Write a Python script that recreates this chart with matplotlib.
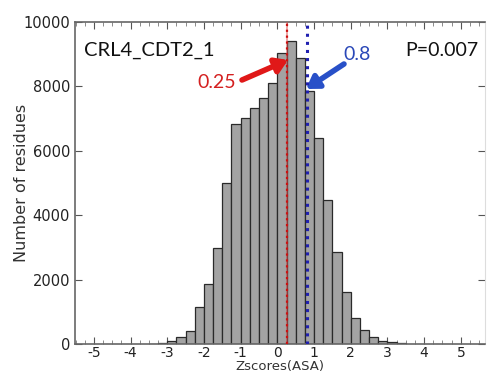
import matplotlib
matplotlib.use("Agg")
import matplotlib.pyplot as plt

# Data
bin_left = [-3.5, -3.25, -3.0, -2.75, -2.5, -2.25, -2.0, -1.75, -1.5, -1.25,
            -1.0, -0.75, -0.5, -0.25, 0.0, 0.25, 0.5, 0.75, 1.0, 1.25,
            1.5, 1.75, 2.0, 2.25, 2.5, 2.75, 3.0, 3.25]
counts = [10, 50, 113, 240, 405, 1165, 1875, 3000, 5000, 6830,
          7010, 7320, 7640, 8120, 9030, 9410, 8890, 7850, 6390, 4470,
          2860, 1615, 825, 440, 230, 120, 65, 30]
bin_width = 0.25
x_ticks = [-5, -4, -3, -2, -1, 0, 1, 2, 3, 4, 5]
y_ticks = [0, 2000, 4000, 6000, 8000, 10000]
red_value = 0.25
blue_value = 0.8
title_text = "CRL4_CDT2_1"
p_text = "P=0.007"

fig = plt.figure(figsize=(4.87, 3.76), dpi=100)
ax = fig.add_axes([0.154, 0.084, 0.842, 0.8575])

ax.bar(bin_left, counts, width=bin_width, align='edge', color='#a3a3a3',
       edgecolor='#2a2a2a', linewidth=0.9, zorder=2)

ax.axvline(red_value, color='#e05050', linestyle='-', linewidth=1.2, alpha=0.6, zorder=3)
ax.axvline(red_value, color='#cc1010', linestyle=':', linewidth=1.6, zorder=4)
ax.axvline(blue_value, color='#2020b0', linestyle=':', linewidth=2.2, zorder=4)

ax.set_xlim(-5.515, 5.66)
ax.set_ylim(0, 10000)
ax.set_xticks(x_ticks)
ax.set_xticklabels([str(t) for t in x_ticks])
ax.set_yticks(y_ticks)
ax.set_xticks([i * 0.25 for i in range(-22, 23)], minor=True)

ax.tick_params(axis='both', which='major', direction='in', length=5, width=0.8,
               colors='#555555', labelcolor='#222222', labelsize=10.5,
               top=True, right=True)
ax.tick_params(axis='x', which='minor', direction='in', length=3, width=0.6,
               colors='#777777', top=True, bottom=True)
ax.tick_params(axis='x', which='major', pad=1.5, labelsize=10)

for side in ['left', 'bottom', 'top']:
    ax.spines[side].set_color('#666666')
    ax.spines[side].set_linewidth(1.2)
ax.spines['right'].set_color('#dddddd')
ax.spines['right'].set_linewidth(0.8)

ax.set_ylabel("Number of residues", fontsize=11.5, color='#333333', labelpad=-4)
ax.set_xlabel("Zscores(ASA)", fontsize=9.5, color='#333333', labelpad=-0.5)

ann_font = ['Lato', 'DejaVu Sans']
fig.text(84 / 487, 1 - 50 / 376, title_text, fontsize=14.5, family=ann_font,
         color='#111111', va='center', ha='left')
fig.text(478 / 487, 1 - 50 / 376, p_text, fontsize=14, family=ann_font,
         color='#111111', va='center', ha='right')
fig.text(217 / 487, 1 - 82 / 376, "0.25", fontsize=14, family=ann_font,
         color='#d42020', va='center', ha='center')
fig.text(357 / 487, 1 - 55 / 376, "0.8", fontsize=14, family=ann_font,
         color='#2a48b8', va='center', ha='center')

# Arrows (figure pixel coords converted to fractions)
def fp(x, y):
    return (x / 487, 1 - y / 376)

ax.annotate('', xy=fp(288, 60), xycoords='figure fraction',
            xytext=fp(242, 80), textcoords='figure fraction',
            arrowprops=dict(arrowstyle='-|>,head_length=0.7,head_width=0.45',
                            color='#e01818', lw=4, shrinkA=0, shrinkB=0))
ax.annotate('', xy=fp(306, 89), xycoords='figure fraction',
            xytext=fp(344, 64), textcoords='figure fraction',
            arrowprops=dict(arrowstyle='-|>,head_length=0.7,head_width=0.45',
                            color='#2850c8', lw=4, shrinkA=0, shrinkB=0))

fig.savefig("out.png", dpi=100)
